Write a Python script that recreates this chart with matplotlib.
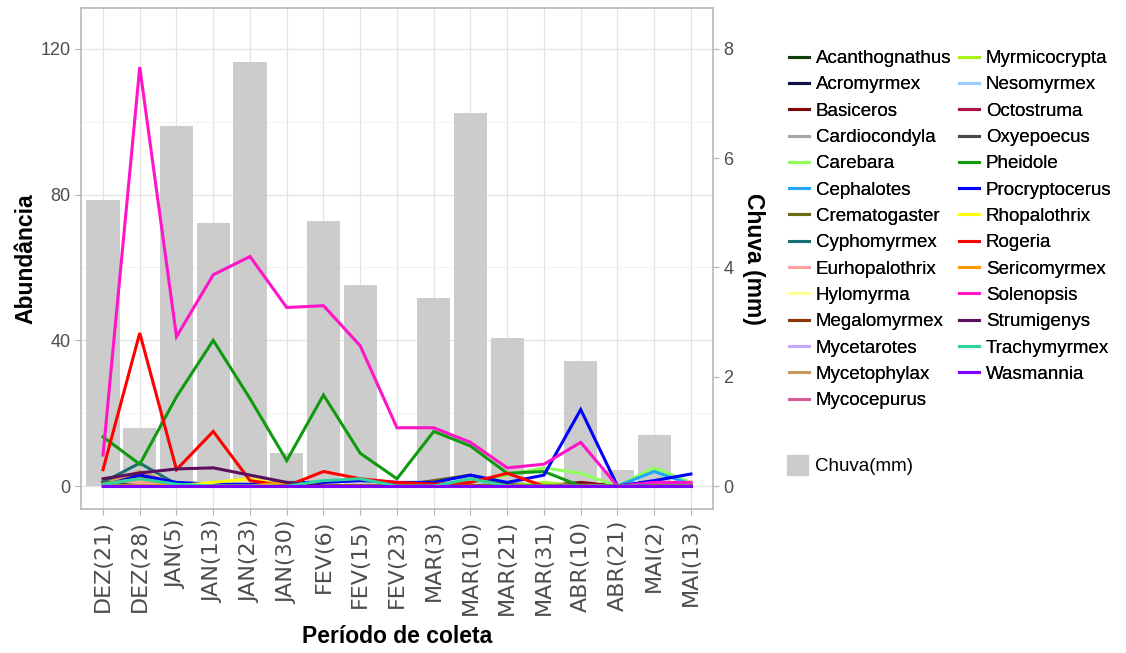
import matplotlib
matplotlib.use("Agg")
import matplotlib.pyplot as plt
from matplotlib.lines import Line2D
from matplotlib.patches import Patch
import numpy as np

plt.rcParams['font.family'] = ['Liberation Sans', 'DejaVu Sans']

datas = ['DEZ(21)', 'DEZ(28)', 'JAN(5)', 'JAN(13)', 'JAN(23)', 'JAN(30)',
         'FEV(6)', 'FEV(15)', 'FEV(23)', 'MAR(3)', 'MAR(10)', 'MAR(21)',
         'MAR(31)', 'ABR(10)', 'ABR(21)', 'MAI(2)', 'MAI(13)']

# chuva acumulada em mm por coleta
chuva = [5.23, 1.06, 6.59, 4.81, 7.76, 0.60, 4.85, 3.68, 0.0, 3.44, 6.83,
         2.71, 0.0, 2.29, 0.29, 0.93, 0.0]

# abundancia por genero
acanthognathus = [1, 0.5, 0, 0, 0, 0, 0, 0, 0, 0, 0, 0, 0, 0, 0, 0, 0]
acromyrmex     = [1, 0.5, 0, 0, 0, 0, 0, 0, 0, 0, 0, 0, 0, 0, 0, 0, 0]
basiceros      = [0, 0, 0, 0, 0, 0, 0, 0, 0, 0, 0, 0, 0, 1, 0, 0, 0]
cardiocondyla  = [0, 0, 0, 0, 0, 0, 0, 0, 0, 0, 0, 1, 0, 0, 0, 0, 0]
carebara       = [0, 0, 0, 0, 0, 0, 0, 0, 0, 0, 1, 3, 5, 3.5, 0, 5, 1]
cephalotes     = [0, 0, 0, 0, 0, 0, 0, 0, 0, 0, 0, 0, 0, 0, 0, 4, 0.5]
crematogaster  = [1, 3.5, 0, 0, 0, 0, 0, 0, 0, 1.5, 3, 0.5, 0, 0, 0, 0, 0]
cyphomyrmex    = [1, 6.3, 0.5, 0, 0, 0, 0, 0, 0, 0, 0, 0, 0, 0, 0, 0, 0]
eurhopalothrix = [0, 1, 0, 0, 0, 0, 0, 0, 0, 0, 0, 0, 0, 0, 0, 0, 0]
hylomyrma      = [0, 0, 0, 0, 1, 0, 0, 0, 0, 0, 0, 0, 0, 0, 0, 0, 0]
megalomyrmex   = [0, 2.5, 0, 0, 0, 0, 0, 0, 0, 0, 0, 0, 0, 0, 0, 0, 0]
mycetarotes    = [0, 0, 0, 0, 0, 0, 0, 0, 0, 0, 0, 0, 0, 0, 0, 0, 0]
mycetophylax   = [0.5, 4, 0.5, 0, 0, 0, 0, 0, 0, 0, 0, 0, 0, 0, 0, 0, 0]
mycocepurus    = [0, 0, 0, 0, 0, 0, 0, 0, 0, 0, 0, 0, 0, 0, 0, 0, 1]
myrmicocrypta  = [0, 0, 0, 0, 0, 0, 0, 0, 0, 0, 0, 0, 1, 0, 0, 0, 0]
nesomyrmex     = [0, 0, 0, 0, 0, 0, 0, 0, 0, 0, 0, 0, 0, 0, 0, 0, 0]
octostruma     = [0, 0, 0, 0, 0, 0, 0, 0, 0, 0, 0, 0, 0, 0.5, 0, 0, 0]
oxyepoecus     = [1, 0, 0, 0, 0, 0, 0, 0, 0, 0, 0, 0, 0, 0, 0, 0, 0]
pheidole       = [13.5, 6, 24.5, 40, 24, 7, 25, 9, 2, 15, 11, 3.5, 4, 0, 0, 0, 0]
procryptocerus = [0, 3, 1, 0.5, 0.5, 1, 1, 1.5, 1, 1, 3, 1, 3, 21, 0, 1.5, 3.3]
rhopalothrix   = [0, 0, 0, 1, 2, 0, 0, 0, 0, 0, 0, 0, 0, 0, 0, 0, 0]
rogeria        = [4.5, 42, 4.5, 15, 1.5, 0, 4, 2, 1, 0.5, 1, 3.5, 0, 0, 0, 0, 0]
sericomyrmex   = [0.5, 2, 0, 0, 0, 1, 0, 0, 0, 0, 0, 0, 0, 0, 0, 0, 0]
solenopsis     = [8.5, 115, 41, 58, 63, 49, 49.5, 38.5, 16, 16, 12, 5, 6, 12, 0, 1, 1]
strumigenys    = [2, 3.6, 4.7, 5, 3, 1, 0, 0, 0, 0, 0, 0, 0, 0, 0, 0, 0]
trachymyrmex   = [0.5, 2, 0.5, 0, 0, 0, 1.5, 2, 0, 0, 2, 0, 0, 0, 0, 0, 0]
wasmannia      = [0, 0, 0, 0, 0, 0, 0, 0, 0, 0, 0, 0, 0, 0, 0, 0, 0]

generos = [
    ('Acanthognathus', acanthognathus, '#123d12'),
    ('Acromyrmex', acromyrmex, '#10104a'),
    ('Basiceros', basiceros, '#7a0a0a'),
    ('Cardiocondyla', cardiocondyla, '#a6a6a6'),
    ('Carebara', carebara, '#8cff5a'),
    ('Cephalotes', cephalotes, '#1ea7ff'),
    ('Crematogaster', crematogaster, '#6b6b10'),
    ('Cyphomyrmex', cyphomyrmex, '#17706e'),
    ('Eurhopalothrix', eurhopalothrix, '#ff9f9f'),
    ('Hylomyrma', hylomyrma, '#ffff99'),
    ('Megalomyrmex', megalomyrmex, '#8b3408'),
    ('Mycetarotes', mycetarotes, '#c9a6ff'),
    ('Mycetophylax', mycetophylax, '#c89660'),
    ('Mycocepurus', mycocepurus, '#d0609a'),
    ('Myrmicocrypta', myrmicocrypta, '#a8f21a'),
    ('Nesomyrmex', nesomyrmex, '#99ccff'),
    ('Octostruma', octostruma, '#b0104a'),
    ('Oxyepoecus', oxyepoecus, '#474747'),
    ('Pheidole', pheidole, '#109a10'),
    ('Procryptocerus', procryptocerus, '#0000ff'),
    ('Rhopalothrix', rhopalothrix, '#ffff00'),
    ('Rogeria', rogeria, '#ff0000'),
    ('Sericomyrmex', sericomyrmex, '#ff9900'),
    ('Solenopsis', solenopsis, '#ff14c8'),
    ('Strumigenys', strumigenys, '#5c0f5c'),
    ('Trachymyrmex', trachymyrmex, '#2ed3a0'),
    ('Wasmannia', wasmannia, '#8000ff'),
]

escala = 15  # 1 mm de chuva = 15 individuos no eixo principal

fig = plt.figure(figsize=(11.26, 6.53), dpi=100)
ax = fig.add_axes([0.0719, 0.2205, 0.5613, 0.7672])

x = np.arange(len(datas))
ax.bar(x, np.array(chuva) * escala, width=0.9, color='#cccccc', zorder=1)

for nome, valores, cor in generos:
    ax.plot(x, valores, color=cor, lw=2.2, zorder=3, solid_joinstyle='miter')

ax.set_xlim(-0.6, len(datas) - 0.4)
ax.set_ylim(-6.3, 131.2)
ax.set_xticks(x)
ax.set_xticklabels(datas, rotation=90, fontsize=16, color='#4d4d4d',
                   family='DejaVu Sans')
ax.set_yticks([0, 40, 80, 120])
ax.set_yticks([20, 60, 100], minor=True)
ax.tick_params(axis='y', labelsize=13, labelcolor='#4d4d4d')
ax.tick_params(which='major', color='#b3b3b3', length=4, width=0.8)
ax.tick_params(axis='x', pad=4)
ax.tick_params(which='minor', length=0)

ax.set_axisbelow(True)
ax.grid(which='major', color='#e3e3e3', lw=0.9, zorder=0)
ax.grid(which='minor', axis='y', color='#f0f0f0', lw=0.6, zorder=0)
for s in ax.spines.values():
    s.set_color('#b3b3b3')
    s.set_linewidth(1.1)

ax.set_ylabel('Abundância', fontsize=16.5, fontweight='bold', labelpad=2)
ax.set_xlabel('Período de coleta', fontsize=16.5, fontweight='bold', labelpad=7)

sec = ax.secondary_yaxis('right', functions=(lambda v: v / escala, lambda v: v * escala))
sec.set_yticks([0, 2, 4, 6, 8])
sec.tick_params(labelsize=13, labelcolor='#4d4d4d', color='#b3b3b3', length=4, width=0.8)
sec.spines['right'].set_visible(False)
sec.set_ylabel('Chuva (mm)', fontsize=16.5, fontweight='bold', rotation=-90, labelpad=23)

handles = [Line2D([], [], color=c, lw=2.2) for _, _, c in generos]
labels = [n for n, _, _ in generos]
leg = fig.legend(handles, labels, ncol=2, loc='upper left',
                 bbox_to_anchor=(789 / 1126, 1 - 50 / 653), frameon=False,
                 fontsize=13.5, handlelength=1.05, handletextpad=0.37,
                 columnspacing=0.43, labelspacing=0.49, borderpad=0,
                 borderaxespad=0)
fig.add_artist(leg)
fig.legend([Patch(color='#cccccc')], ['Chuva(mm)'], loc='upper left',
           bbox_to_anchor=(787 / 1126, 1 - 455 / 653), frameon=False,
           fontsize=13.5, handlelength=1.12, handleheight=1.23,
           handletextpad=0.37, borderpad=0, borderaxespad=0)

fig.savefig('out.png', dpi=100)
